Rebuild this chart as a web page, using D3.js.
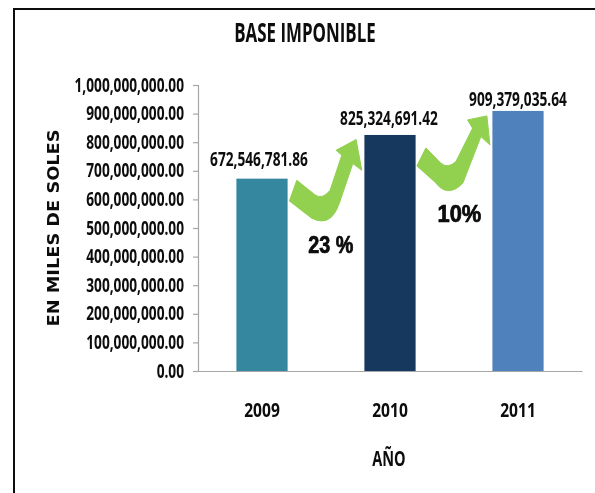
<!DOCTYPE html>
<html><head><meta charset="utf-8">
<script src="https://cdnjs.cloudflare.com/ajax/libs/d3/7.8.5/d3.min.js"></script>
<style>html,body{margin:0;padding:0;background:#fff}svg{display:block}
text{font-family:"Open Sans",sans-serif;font-weight:700;fill:#0a0a0a}</style>
</head><body><div id="c"></div>
<script>
const years=["2009","2010","2011"];
const values=[672546781.86,825324691.42,909379035.64];
const valueLabels=["672,546,781.86","825,324,691.42","909,379,035.64"];
const barColors=["#34869f","#17375e","#4f81bd"];
const tickValues=[0,1,2,3,4,5,6,7,8,9,10].map(d=>d*1e8);
const growthLabels=["23 %","10%"];
const W=595,H=493;
const svg=d3.select("#c").append("svg").attr("width",W).attr("height",H);
svg.append("defs").append("filter").attr("id","soft").append("feGaussianBlur").attr("stdDeviation",0.4);
const root=svg.append("g").attr("filter","url(#soft)");
root.append("rect").attr("x",14).attr("y",9).attr("width",600).attr("height",520)
 .attr("fill","#fff").attr("stroke","#111").attr("stroke-width",2);
const y=d3.scaleLinear().domain([0,1e9]).range([371,85]);
const x=d3.scaleBand().domain(years).range([198,582]).paddingInner(0.6).paddingOuter(0.3);
const fmt=d3.format(",.2f");
// condense a text selection horizontally (no narrow bold face is installed)
const squeeze=(sel,f)=>sel.each(function(){
  const n=this.getComputedTextLength();
  d3.select(this).attr("lengthAdjust","spacingAndGlyphs").attr("textLength",n*f);
});
const ya=root.append("g").attr("transform","translate(198,0)")
 .call(d3.axisLeft(y).tickValues(tickValues).tickFormat(fmt).tickSize(5).tickPadding(9));
ya.selectAll("path,line").attr("stroke","#a6a6a6").attr("stroke-width",1.2);
ya.selectAll("text").style("font-size","19px").attr("fill","#0a0a0a").call(squeeze,0.72);
const xa=root.append("g").attr("transform","translate(0,371)")
 .call(d3.axisBottom(x).tickSize(0).tickPadding(32));
xa.select("path").attr("stroke","#a6a6a6").attr("stroke-width",1.2);
xa.selectAll("text").style("font-size","20px").attr("fill","#0a0a0a").call(squeeze,0.78);
root.selectAll("rect.bar").data(years).join("rect").attr("class","bar")
 .attr("x",d=>x(d)).attr("width",x.bandwidth())
 .attr("y",(d,i)=>y(values[i])).attr("height",(d,i)=>371-y(values[i]))
 .attr("fill",(d,i)=>barColors[i]);
const labelDx=[-3,-1,0], labelDy=[-13,-10,-5];
root.selectAll("text.val").data(years).join("text").attr("class","val")
 .attr("x",(d,i)=>x(d)+x.bandwidth()/2+labelDx[i]).attr("y",(d,i)=>y(values[i])+labelDy[i])
 .attr("text-anchor","middle").style("font-size","19px").text((d,i)=>valueLabels[i]).call(squeeze,0.72);
root.append("text").attr("x",305).attr("y",42).attr("text-anchor","middle").style("font-size","26px").text("BASE IMPONIBLE").call(squeeze,0.65);
root.append("text").attr("x",389).attr("y",466).attr("text-anchor","middle").style("font-size","22px").text("AÑO").call(squeeze,0.66);
root.append("text").attr("transform","translate(59,228) rotate(-90)").attr("text-anchor","middle")
 .style("font-family","'DejaVu Sans',sans-serif").style("font-size","15px").style("font-weight","700")
 .text("EN MILES DE SOLES").attr("textLength",197).attr("lengthAdjust","spacingAndGlyphs");
// growth arrows, placed from the bar they point to
const arrowShapes=[
 "M0,0 L7.4,-20.7 L25.7,-6 Q33,-1 40.7,-10.7 L52.4,-45.7 L46.7,-50.7 L66.7,-61.4 L72.4,-30.7 L63.4,-37.4 L50,2 Q44,20 32.4,20 Q27,20 22,17 Z",
 "M0,0 L9,-18 L24,-2.7 Q31,3 39,-4.3 L55.7,-37.7 L50.7,-46 L70,-50 L73,-21 L64,-29.3 L46,17 Q39,25 30.7,24.7 Q24,24 19,17 Z"];
const arrows=[{to:"2010",v:1,dx:-75,dy:66},{to:"2011",v:2,dx:-75.5,dy:55}];
root.selectAll("path.arrow").data(arrows).join("path").attr("class","arrow")
 .attr("d",(d,i)=>arrowShapes[i]).attr("fill","#92d050")
 .attr("stroke","#92d050").attr("stroke-linejoin","round")
 .attr("transform",d=>`translate(${x(d.to)+d.dx},${y(values[d.v])+d.dy})`);
const pct=[{to:"2010",t:growthLabels[0],dx:-33.5,dy:118,f:0.86},{to:"2011",t:growthLabels[1],dx:-33,dy:111,f:0.95}];
root.selectAll("text.pct").data(pct).join("text").attr("class","pct")
 .attr("x",d=>x(d.to)+d.dx).attr("y",d=>y(values[years.indexOf(d.to)])+d.dy)
 .attr("text-anchor","middle").style("font-family","'Liberation Sans',sans-serif").style("font-size","23px")
 .attr("stroke","#000").attr("stroke-width",0.7).text(d=>d.t)
 .each(function(d){const n=this.getComputedTextLength();d3.select(this).attr("lengthAdjust","spacingAndGlyphs").attr("textLength",n*d.f);});
</script></body></html>
